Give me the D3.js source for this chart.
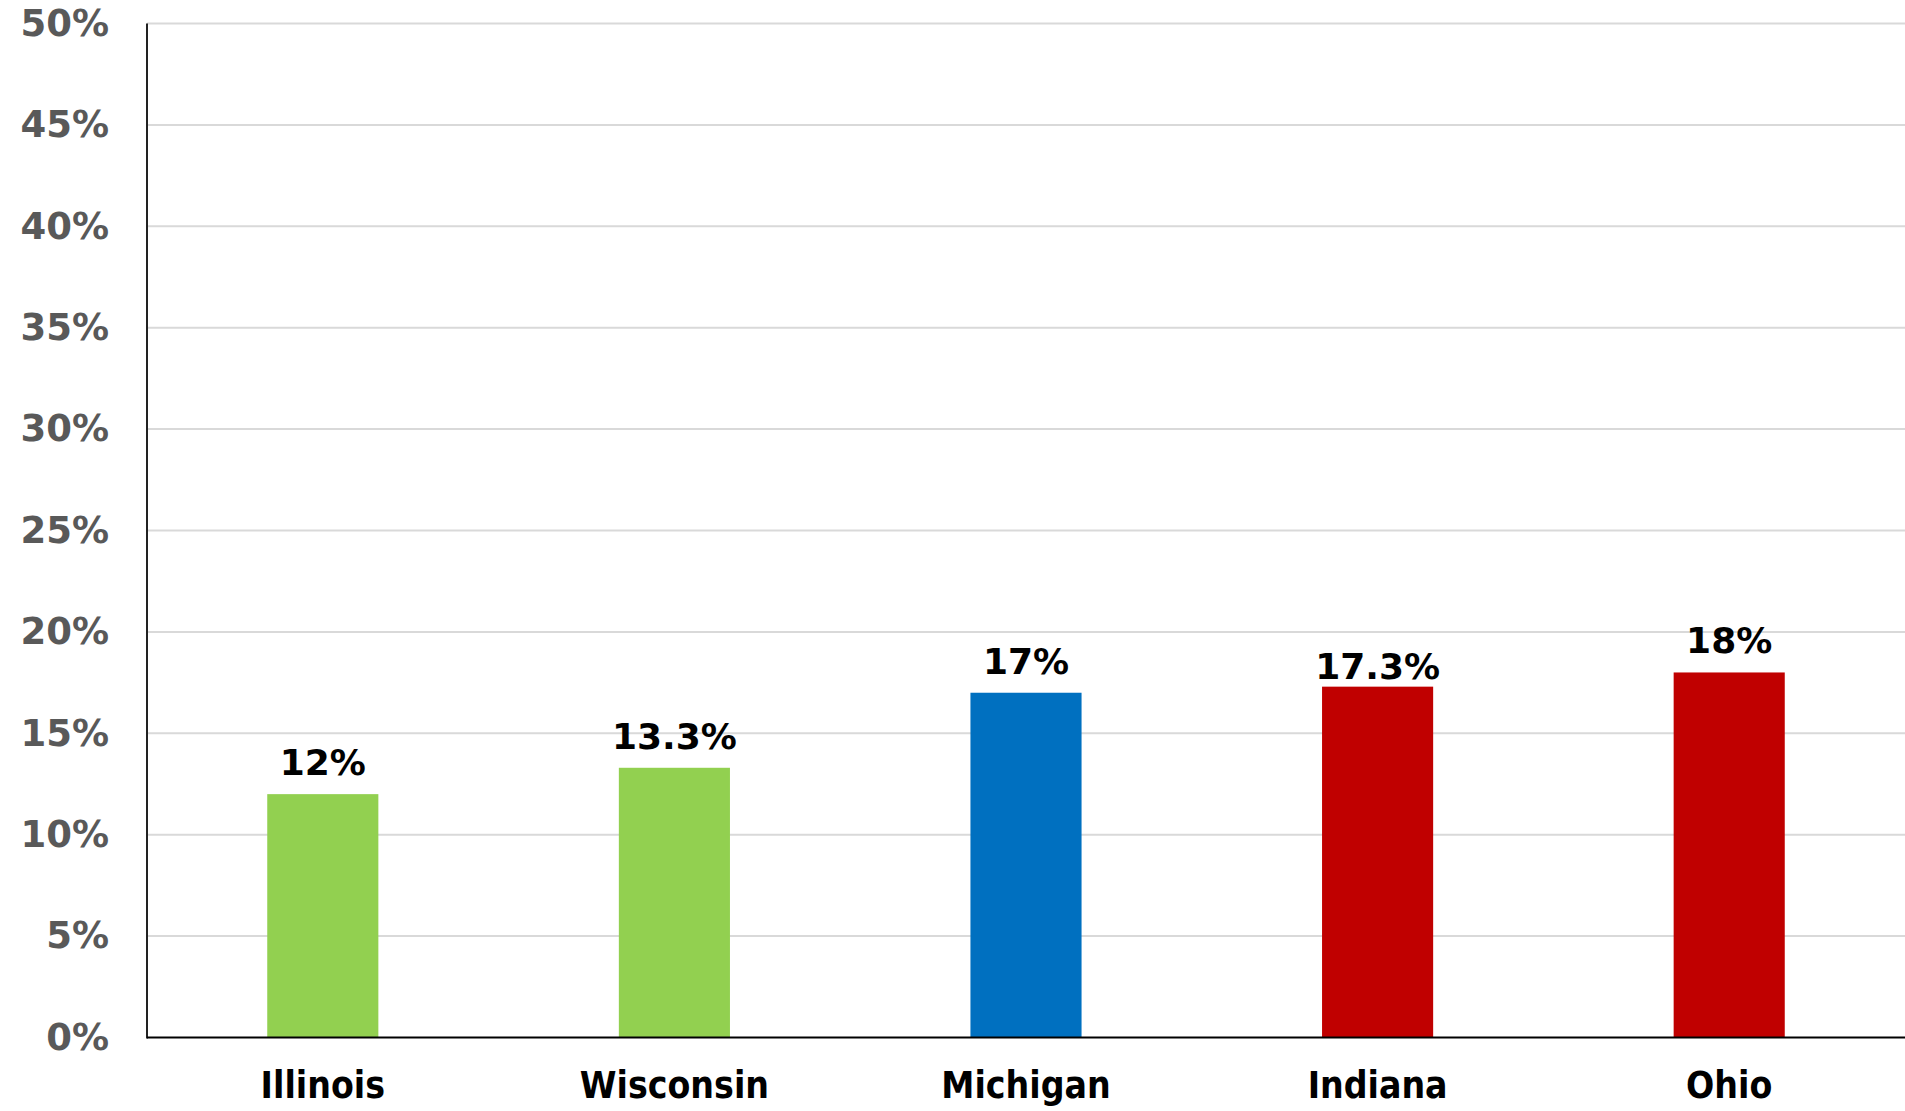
<!DOCTYPE html>
<html><head><meta charset="utf-8">
<script src="https://cdn.jsdelivr.net/npm/d3@7"></script>
<style>body{margin:0;background:#fff;}svg{display:block;}</style>
</head><body>
<svg id="c" width="1905" height="1111"></svg>
<script>
const categories = ["Illinois","Wisconsin","Michigan","Indiana","Ohio"];
const values = [12, 13.3, 17, 17.3, 18];
const valueLabels = ["12%","13.3%","17%","17.3%","18%"];
const barColors = ["#92d050","#92d050","#0070c0","#c00000","#c00000"];
const yTicks = [0,5,10,15,20,25,30,35,40,45,50];

(function(){
const svg = d3.select("#c");
const mLeft = 147, mRight = 1905, mTop = 23.5, mBottom = 1037.5;
const font = "'DejaVu Sans', Verdana, sans-serif";
const condFont = "'DejaVu Sans Condensed', 'DejaVu Sans', sans-serif";

const x = d3.scaleBand().domain(categories).range([mLeft, mRight]).paddingInner(0.684).paddingOuter(0.342);
const y = d3.scaleLinear().domain([0,50]).range([mBottom, mTop]);

// gridlines
svg.append("g").selectAll("line").data(yTicks.filter(d=>d>0)).join("line")
  .attr("x1", mLeft).attr("x2", mRight)
  .attr("y1", d=>y(d)).attr("y2", d=>y(d))
  .attr("stroke","#d9d9d9").attr("stroke-width",2);

// y axis labels
const yAxis = d3.axisLeft(y).tickValues(yTicks).tickFormat(d=>d+"%").tickSize(0).tickPadding(38);
const ya = svg.append("g").attr("transform",`translate(${mLeft},0)`).call(yAxis);
ya.select(".domain").remove();
ya.selectAll("text").attr("font-family",font).attr("font-weight","bold").attr("font-size",37).attr("fill","#595959");

// bars
svg.append("g").selectAll("rect").data(values).join("rect")
  .attr("x",(d,i)=>x(categories[i])).attr("width",x.bandwidth())
  .attr("y",d=>y(d)).attr("height",d=>mBottom-y(d))
  .attr("fill",(d,i)=>barColors[i]);

// value labels (Indiana's label sits closer to its bar in the reference)
const gap = i => i === 3 ? 8 : 19;
svg.append("g").selectAll("text").data(values).join("text")
  .attr("x",(d,i)=>x(categories[i])+x.bandwidth()/2)
  .attr("y",(d,i)=>y(d)-gap(i))
  .attr("text-anchor","middle")
  .attr("font-family",font).attr("font-weight","bold").attr("font-size",36).attr("fill","#000")
  .text((d,i)=>valueLabels[i]);

// axes lines
svg.append("line").attr("x1",mLeft).attr("x2",mLeft).attr("y1",mTop).attr("y2",mBottom+1)
  .attr("stroke","#222").attr("stroke-width",2);
svg.append("line").attr("x1",mLeft).attr("x2",mRight).attr("y1",mBottom).attr("y2",mBottom)
  .attr("stroke","#000").attr("stroke-width",2);

// x labels
const xAxis = d3.axisBottom(x).tickSize(0).tickPadding(0);
const xa = svg.append("g").call(xAxis);
xa.select(".domain").remove();
xa.selectAll("text").attr("y",1098).attr("dy",null)
  .attr("font-family",condFont).attr("font-weight","bold").attr("font-size",37).attr("fill","#000");
})();
</script>
</body></html>
